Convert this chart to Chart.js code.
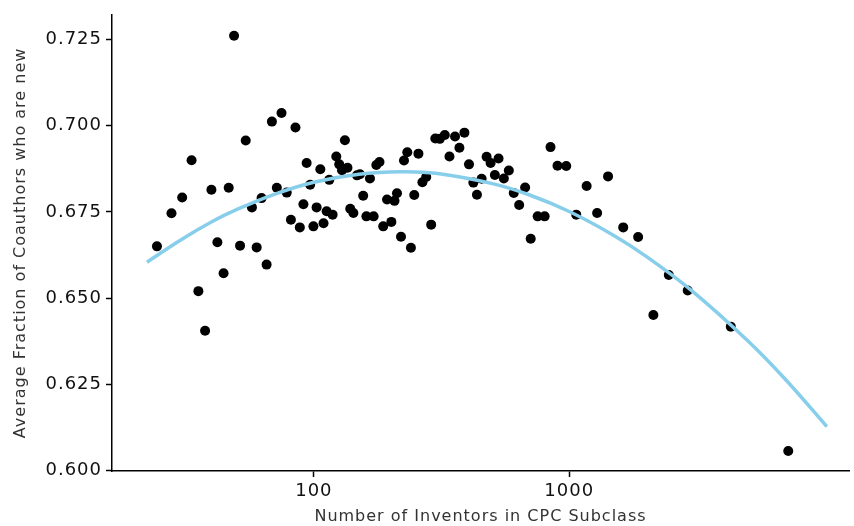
<!DOCTYPE html>
<html>
<head>
<meta charset="utf-8">
<script src="https://cdn.jsdelivr.net/npm/chart.js@4/dist/chart.umd.min.js"></script>
<style>
  html, body { margin: 0; padding: 0; background: #fff; }
  #wrap { width: 854px; height: 526px; }
</style>
</head>
<body>
<div id="wrap"><canvas id="scatterChart" width="854" height="526"></canvas></div>
<script>
// number of inventors in each CPC subclass (x, log scale)
const inventors = [
  24.3, 27.7, 30.5, 33.2, 35.3, 37.5, 39.7, 41.9, 44.3, 46.4,
  48.7, 51.4, 54.1, 57.2, 59.7, 62.4, 65.3, 68.5, 71.6, 74.7,
  78.3, 81.3, 84.7, 88.1, 91.0, 93.7, 96.7, 99.6, 102.5, 106.0,
  109.1, 112.2, 114.9, 118.4, 122.4, 125.7, 128.9, 132.3, 135.4, 138.8,
  142.8, 147.5, 151.5, 156.0, 160.6, 165.8, 171.4, 175.6, 180.7, 186.9,
  193.4, 201.1, 206.9, 211.6, 219.4, 225.4, 232.2, 239.9, 247.2, 256.7,
  266.1, 275.4, 288.0, 298.9, 311.3, 325.6, 339.6, 357.1, 371.5, 388.6,
  405.0, 421.3, 435.1, 453.9, 474.7, 492.1, 511.4, 528.7, 554.5, 580.0,
  606.5, 636.7, 671.9, 706.5, 752.3, 801.1, 844.7, 899.5, 973.4, 1065,
  1170, 1286, 1419, 1627, 1861, 2135, 2454, 2910, 4292, 7205
];
// average fraction of coauthors who are new (y)
const fractionNew = [
  0.6650, 0.6746, 0.6792, 0.6900, 0.6520, 0.6405, 0.6814, 0.6662, 0.6572, 0.6820,
  0.7261, 0.6652, 0.6957, 0.6763, 0.6647, 0.6790, 0.6597, 0.7012, 0.6820, 0.7037,
  0.6806, 0.6727, 0.6995, 0.6705, 0.6772, 0.6892, 0.6829, 0.6708, 0.6763, 0.6874,
  0.6717, 0.6752, 0.6843, 0.6742, 0.6911, 0.6888, 0.6871, 0.6958, 0.6878, 0.6759,
  0.6747, 0.6856, 0.6859, 0.6797, 0.6737, 0.6847, 0.6737, 0.6886, 0.6895, 0.6708,
  0.6786, 0.6721, 0.6782, 0.6804, 0.6678, 0.6899, 0.6923, 0.6646, 0.6799, 0.6919,
  0.6836, 0.6851, 0.6713, 0.6963, 0.6962, 0.6973, 0.6911, 0.6969, 0.6936, 0.6980,
  0.6888, 0.6835, 0.6800, 0.6846, 0.6910, 0.6892, 0.6857, 0.6905, 0.6847, 0.6870,
  0.6805, 0.6770, 0.6821, 0.6672, 0.6737, 0.6737, 0.6938, 0.6884, 0.6883, 0.6742,
  0.6825, 0.6747, 0.6853, 0.6705, 0.6677, 0.6451, 0.6567, 0.6522, 0.6417, 0.6056
];
// fitted curve
const fitX = [22.2, 30, 40, 50, 70, 100, 150, 220, 300, 500, 700, 1000, 1500, 2000, 3000, 5000, 7000, 10200];
const fitY = [0.6604, 0.6668, 0.6722, 0.6757, 0.6801, 0.6836, 0.6859, 0.68665, 0.6862, 0.6832, 0.6799, 0.6751, 0.6681, 0.6621, 0.6523, 0.6376, 0.6265, 0.6127];

const xTicks = [100, 1000];
const yTicks = [0.600, 0.625, 0.650, 0.675, 0.700, 0.725];

const FONT = "'DejaVu Sans', sans-serif";

// the original font is wider, so space the letters out a little
const widerText = {
    id: 'widerText',
    beforeDraw(chart) {
        chart.ctx.letterSpacing = '1px';
    }
};

function renderChart() {
    const ctx = document.getElementById('scatterChart');
    const points = inventors.map((x, i) => ({ x, y: fractionNew[i] }));
    const fit = fitX.map((x, i) => ({ x, y: fitY[i] }));

    new Chart(ctx, {
        type: 'scatter',
        data: {
            datasets: [
                {
                    data: fit,
                    showLine: true,
                    borderColor: '#87ceeb',
                    borderWidth: 3.5,
                    pointRadius: 0,
                    tension: 0.4,
                    order: 0
                },
                {
                    data: points,
                    backgroundColor: '#000',
                    borderColor: '#000',
                    pointRadius: 5,
                    pointBorderWidth: 0,
                    order: 1
                }
            ]
        },
        plugins: [widerText],
        options: {
            responsive: false,
            animation: false,
            layout: { padding: { top: 12, right: 2, left: 0, bottom: 0 } },
            plugins: { legend: { display: false }, tooltip: { enabled: false } },
            scales: {
                x: {
                    type: 'logarithmic',
                    min: 16.2,
                    max: 12460,
                    afterBuildTicks: s => { s.ticks = xTicks.map(v => ({ value: v })); },
                    afterFit: s => { s.height = 55; },
                    grid: { drawOnChartArea: false, color: '#000', tickLength: 6, tickWidth: 1.5 },
                    border: { color: '#000', width: 1.5 },
                    ticks: {
                        color: '#111',
                        font: { family: FONT, size: 18 },
                        padding: 4,
                        maxRotation: 0,
                        callback: v => String(v)
                    },
                    title: {
                        display: true,
                        text: 'Number of Inventors in CPC Subclass',
                        color: '#333',
                        font: { family: FONT, size: 16 },
                        padding: { top: 0, bottom: 0 }
                    }
                },
                y: {
                    min: 0.5998,
                    max: 0.7322,
                    afterBuildTicks: s => { s.ticks = yTicks.map(v => ({ value: v })); },
                    afterFit: s => { s.width = 112; },
                    grid: { drawOnChartArea: false, color: '#000', tickLength: 6, tickWidth: 1.5 },
                    border: { color: '#000', width: 1.5 },
                    ticks: {
                        color: '#111',
                        font: { family: FONT, size: 18 },
                        padding: 4,
                        callback: v => Number(v).toFixed(3)
                    },
                    title: {
                        display: true,
                        text: 'Average Fraction of Coauthors who are new',
                        color: '#333',
                        font: { family: FONT, size: 16 },
                        padding: { top: 11, bottom: 0 }
                    }
                }
            }
        }
    });
}

renderChart();
</script>
</body>
</html>
